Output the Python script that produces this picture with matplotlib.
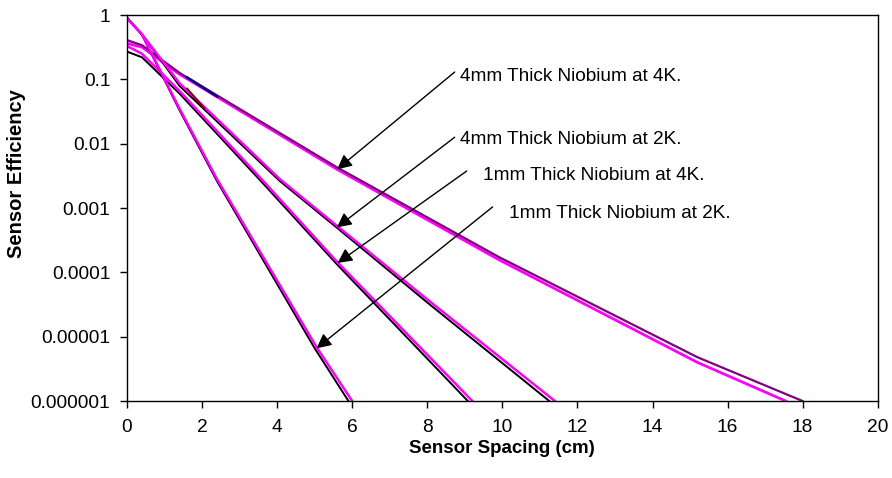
import matplotlib
matplotlib.use("Agg")
import matplotlib.pyplot as plt
from matplotlib.ticker import FixedLocator, FixedFormatter, NullLocator

plt.rcParams["font.family"] = ["Liberation Sans", "DejaVu Sans"]

# --- data (x in cm, efficiency) ---
x_4mm4k_a = [0, 0.4, 1.4, 5.6, 9.9, 15.2, 18.0]
y_4mm4k_a = [0.407, 0.339, 0.126, 0.00427, 1.74e-4, 4.79e-6, 1e-6]
x_4mm4k_b = [0, 0.4, 1.4, 5.6, 9.9, 15.2, 17.55]
y_4mm4k_b = [0.363, 0.316, 0.120, 0.00398, 1.58e-4, 3.98e-6, 1e-6]

x_4mm2k_a = [0, 0.4, 1.4, 4.07, 5.6, 8.0, 11.25]
y_4mm2k_a = [0.91, 0.50, 0.079, 0.00263, 4.9e-4, 3.4e-5, 1e-6]
x_4mm2k_b = [0, 0.4, 1.4, 4.07, 5.6, 8.0, 11.4]
y_4mm2k_b = [0.89, 0.50, 0.087, 0.00282, 5.25e-4, 3.8e-5, 1e-6]

x_1mm4k_a = [0, 0.4, 1.4, 3.6, 5.6, 9.08]
y_1mm4k_a = [0.27, 0.22, 0.060, 0.0025, 1.32e-4, 1e-6]
x_1mm4k_b = [0, 0.4, 1.4, 3.6, 5.6, 9.2]
y_1mm4k_b = [0.33, 0.25, 0.066, 0.00275, 1.45e-4, 1e-6]

x_1mm2k_a = [0, 0.4, 1.4, 2.4, 5.0, 5.9]
y_1mm2k_a = [0.91, 0.49, 0.033, 0.0026, 6.6e-6, 1e-6]
x_1mm2k_b = [0, 0.4, 1.4, 2.4, 5.05, 6.0]
y_1mm2k_b = [0.89, 0.50, 0.035, 0.0028, 6.9e-6, 1e-6]

# two short stray segments near x = 2
x_seg_blue = [1.6, 2.4]
y_seg_blue = [0.107, 0.054]
x_seg_red = [1.6, 2.05]
y_seg_red = [0.072, 0.036]

labels = ["4mm Thick Niobium at 4K.", "4mm Thick Niobium at 2K.",
          "1mm Thick Niobium at 4K.", "1mm Thick Niobium at 2K."]
arrow_tips = [(5.6, 0.0040), (5.59, 5.0e-4), (5.61, 1.40e-4), (5.05, 6.6e-6)]
arrow_tails = [(8.73, 0.130), (8.73, 0.0126), (9.05, 0.00376), (9.74, 0.00104)]
label_pos = [(8.86, 0.109), (8.88, 0.0117), (9.48, 0.00324), (10.17, 8.3e-4)]

yticks = [1, 0.1, 0.01, 0.001, 0.0001, 0.00001, 0.000001]
ytick_labels = ["1", "0.1", "0.01", "0.001", "0.0001", "0.00001", "0.000001"]

fig = plt.figure(figsize=(8.92, 4.78), dpi=100)
ax = fig.add_axes([0.1424, 0.161, 0.8416, 0.8076])

ax.plot(x_4mm4k_b, y_4mm4k_b, color="#FF00FF", lw=2.0)
ax.plot(x_4mm4k_a, y_4mm4k_a, color="#800080", lw=1.6)
ax.plot(x_4mm2k_a, y_4mm2k_a, color="black", lw=1.4)
ax.plot(x_4mm2k_b, y_4mm2k_b, color="#FF00FF", lw=1.8)
ax.plot(x_1mm4k_a, y_1mm4k_a, color="black", lw=1.4)
ax.plot(x_1mm4k_b, y_1mm4k_b, color="#FF00FF", lw=1.8)
ax.plot(x_1mm2k_a, y_1mm2k_a, color="black", lw=1.4)
ax.plot(x_1mm2k_b, y_1mm2k_b, color="#FF00FF", lw=1.8)
ax.plot(x_seg_blue, y_seg_blue, color="#000080", lw=1.8)
ax.plot(x_seg_red, y_seg_red, color="#800000", lw=1.4)

for lab, tip, tail, pos in zip(labels, arrow_tips, arrow_tails, label_pos):
    ax.annotate("", xy=tip, xytext=tail,
                arrowprops=dict(arrowstyle="-|>", color="black", lw=1.0,
                                mutation_scale=22, shrinkA=0, shrinkB=0))
    ax.text(pos[0], pos[1], lab, ha="left", va="center", fontsize=13.7)

ax.set_yscale("log")
ax.set_xlim(0, 20)
ax.set_ylim(1e-6, 1)
ax.set_xticks(range(0, 21, 2))
ax.yaxis.set_major_locator(FixedLocator(yticks))
ax.yaxis.set_major_formatter(FixedFormatter(ytick_labels))
ax.yaxis.set_minor_locator(NullLocator())
ax.tick_params(direction="out", length=5, width=1, labelsize=13.8, colors="black")
ax.tick_params(axis="x", pad=8)
ax.tick_params(axis="y", pad=7)
for s in ax.spines.values():
    s.set_linewidth(1.0)
    s.set_color("black")

ax.set_xlabel("Sensor Spacing (cm)", fontsize=13.5, fontweight="bold", labelpad=3)
ax.set_ylabel("Sensor Efficiency", fontsize=14.5, fontweight="bold")
ax.yaxis.set_label_coords(-0.134, 0.59)

fig.savefig("out.png", dpi=100)
